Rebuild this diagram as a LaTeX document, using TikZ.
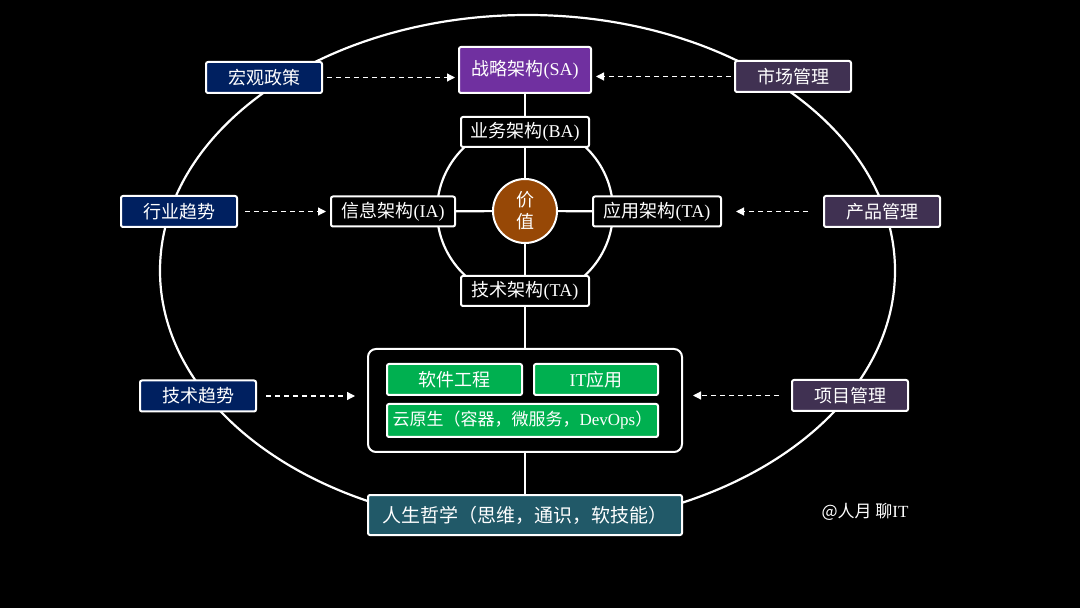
\documentclass[tikz,border=0pt]{standalone}
\usepackage{fontspec}
\usepackage{xcolor}
\setmainfont{Liberation Serif}
\newfontfamily\cjk{Noto Sans CJK SC}
\usetikzlibrary{arrows.meta, positioning}
\definecolor{navyc}{HTML}{002060}
\definecolor{plumc}{HTML}{403152}
\definecolor{violetc}{HTML}{7030A0}
\definecolor{greenc}{HTML}{00B050}
\definecolor{tealc}{HTML}{215968}
\definecolor{brownc}{HTML}{974806}

\begin{document}
\begin{tikzpicture}[x=0.5pt,y=-0.5pt,font=\fontsize{9pt}{11pt}\selectfont,text=white,
  box/.style={draw=white,line width=1pt,rounded corners=1pt,align=center,inner sep=0pt,fill=black},
  outer/.style={box,minimum width=58pt,minimum height=15.5pt},
  arch/.style={box,minimum width=64pt,minimum height=15pt},
  tech/.style={box,fill=greenc,minimum height=15.5pt},
  link/.style={white,line width=1.1pt},
  arrow/.style={-{Triangle[width=4pt,length=4pt]},white,line width=0.6pt,dashed,dash pattern=on 2.5pt off 2pt}]
  \fill[black] (0,0) rectangle (1080,608);
  \useasboundingbox (0,0) rectangle (1080,608);
  % ring and core
  \coordinate (mid) at (527.5,270.7);
  \coordinate (core) at (525,211);
  \draw[link] (mid) ellipse [x radius=183.75pt, y radius=127.85pt];
  \draw[link] (core) circle (44pt);
  % architecture
  \node[box,fill=violetc,minimum width=66pt,minimum height=23pt] (sa) at (525,70) {\cjk 战略架构\rmfamily (SA)};
  \node[arch] (ba) at (525,132) {\cjk 业务架构\rmfamily (BA)};
  \node[arch,minimum width=62pt] (ia) at (393,211.5) {\cjk 信息架构\rmfamily (IA)};
  \node[arch] (app) at (657,211.5) {\cjk 应用架构\rmfamily (TA)};
  \node[arch] (ta) at (525,291) {\cjk 技术架构\rmfamily (TA)};
  \node[circle,draw=white,line width=1pt,fill=brownc,minimum size=32pt,inner sep=0pt,align=center,
    font=\cjk\fontsize{9pt}{11pt}\selectfont] (val) at (core) {价\\值};
  % environment
  \node[outer,fill=navyc] (macro) at (264,77.5) {\cjk 宏观政策};
  \node[outer,fill=navyc] (trend) at (179,211.5) {\cjk 行业趋势};
  \node[outer,fill=navyc] (techt) at (198,396) {\cjk 技术趋势};
  \node[outer,fill=plumc] (market) at (793,76.5) {\cjk 市场管理};
  \node[outer,fill=plumc] (prod) at (882,211.5) {\cjk 产品管理};
  \node[outer,fill=plumc] (proj) at (850,395.5) {\cjk 项目管理};
  % stack
  \node[box,rounded corners=4pt,minimum width=157pt,minimum height=51.5pt] (stack) at (525,400.5) {};
  \node[tech,minimum width=67.5pt] (swe) at (454.5,379.5) {\cjk 软件工程};
  \node[tech,minimum width=62pt] (itapp) at (596,379.5) {\rmfamily IT\cjk 应用};
  \node[tech,minimum width=135.5pt,minimum height=16.5pt,font=\fontsize{8.5pt}{10pt}\selectfont] (cloud) at (522.5,420.5) {{\cjk 云原生（容器，微服务，}DevOps{\cjk ）}};
  \node[box,fill=tealc,minimum width=157pt,minimum height=20pt,font=\cjk\fontsize{9.5pt}{11pt}\selectfont] (life) at (525,515) {人生哲学（思维，通识，软技能）};
  \node[font=\cjk\fontsize{8.5pt}{10pt}\selectfont] (mark) at (865,512) {@人月 聊\rmfamily IT};
  % links
  \draw[link] (sa) -- (ba);
  \draw[link] (ba) -- (val);
  \draw[link] (val) -- (ta);
  \draw[link] (ta) -- (stack);
  \draw[link] (stack) -- (life);
  \draw[link] (ia) -- (val);
  \draw[link] (val) -- (app);
  \draw[arrow,shorten <=2pt,shorten >=1.5pt] (macro.east) -- (macro.east -| sa.west);
  \draw[arrow,shorten <=1.5pt,shorten >=2pt] (market.west) -- (market.west -| sa.east);
  \draw[arrow,shorten <=3.5pt,shorten >=2pt] (trend) -- (ia);
  \draw[arrow,shorten <=7.5pt,shorten >=7pt] (prod) -- (app);
  \draw[arrow,shorten <=4.5pt,shorten >=6pt] (techt.east) -- (stack.west |- techt.east);
  \draw[arrow,shorten <=6pt,shorten >=5pt] (proj.west) -- (stack.east |- proj.west);
\end{tikzpicture}
\end{document}
